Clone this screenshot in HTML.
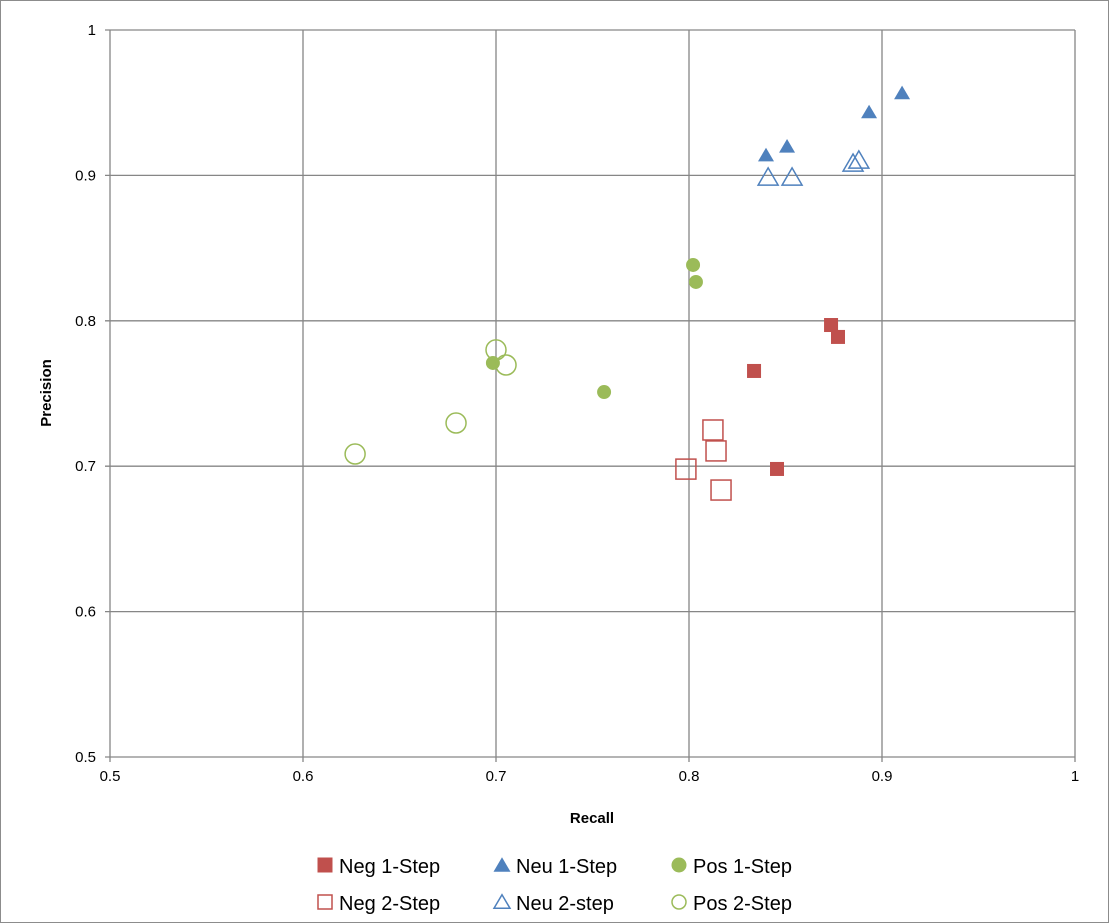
<!DOCTYPE html>
<html><head><meta charset="utf-8"><style>
body{margin:0;background:#fff;}
svg{display:block;font-family:"Liberation Sans",sans-serif;}
</style></head><body>
<svg id="chart" width="1109" height="923">
<rect x="0.5" y="0.5" width="1108" height="922" fill="#fff" stroke="#8c8c8c"/>
<g id="grid"></g><g id="marks"></g><g id="legend"></g>
<text x="592" y="823" text-anchor="middle" font-size="15" font-weight="bold">Recall</text>
<text transform="translate(51,393) rotate(-90)" text-anchor="middle" font-size="15" font-weight="bold">Precision</text>
</svg>
<script>
const xTicks=[0.5,0.6,0.7,0.8,0.9,1];
const xTickLabels=["0.5","0.6","0.7","0.8","0.9","1"];
const yTicks=[0.5,0.6,0.7,0.8,0.9,1];
const yTickLabels=["0.5","0.6","0.7","0.8","0.9","1"];
const neg1Recall=[0.8337,0.8736,0.8772,0.8456];
const neg1Precision=[0.7655,0.7971,0.7889,0.6981];
const neg2Recall=[0.7984,0.8124,0.814,0.8166];
const neg2Precision=[0.698,0.7249,0.7105,0.6836];
const neu1Recall=[0.8399,0.8508,0.8933,0.9104];
const neu1Precision=[0.914,0.920,0.9436,0.9567];
const neu2Recall=[0.841,0.8534,0.885,0.888];
const neu2Precision=[0.8989,0.8989,0.9085,0.9106];
const pos1Recall=[0.8021,0.8036,0.6984,0.756];
const pos1Precision=[0.8384,0.8267,0.771,0.751];
const pos2Recall=[0.627,0.6793,0.7,0.7052];
const pos2Precision=[0.7084,0.7297,0.78,0.7696];
const seriesNames=["Neg 1-Step","Neu 1-Step","Pos 1-Step","Neg 2-Step","Neu 2-step","Pos 2-Step"];

const NS="http://www.w3.org/2000/svg";
const X=v=>110+(v-0.5)/0.5*965;
const Y=v=>757-(v-0.5)/0.5*727;
function mk(tag,attrs,parent){const e=document.createElementNS(NS,tag);for(const k in attrs)e.setAttribute(k,attrs[k]);parent.appendChild(e);return e;}
const grid=document.getElementById('grid'),marks=document.getElementById('marks'),legend=document.getElementById('legend');
xTicks.forEach((t,i)=>{
 const l=mk('line',{x1:X(t),x2:X(t),y1:Y(1),y2:Y(0.5)+5,stroke:'#868686','stroke-width':1.3},grid);
 
 
 const tx=mk('text',{x:X(t),y:Y(0.5)+24,'text-anchor':'middle','font-size':15},grid);tx.textContent=xTickLabels[i];
 
 
});
yTicks.forEach((t,i)=>{
 const l=mk('line',{x1:X(0.5)-5,x2:X(1),y1:Y(t),y2:Y(t),stroke:'#868686','stroke-width':1.3},grid);
 
 
 const tx=mk('text',{x:X(0.5)-14,y:Y(t)+5,'text-anchor':'end','font-size':15},grid);tx.textContent=yTickLabels[i];
 
 
});
const RED='#C0504D',BLUE='#4F81BD',GREEN='#9BBB59';
function shape(type,filled,color,cx,cy,s,parent){
 const fill=filled?color:'none';const sw=filled?0:1.5;
 if(type==='sq')return mk('rect',{x:cx-s/2,y:cy-s/2,width:s,height:s,fill,stroke:color,'stroke-width':sw},parent);
 if(type==='tri'){const h=s*0.9;return mk('polygon',{points:`${cx},${cy-h/2-1} ${cx+s/2+1},${cy+h/2} ${cx-s/2-1},${cy+h/2}`,fill,stroke:color,'stroke-width':sw},parent);}
 return mk('circle',{cx,cy,r:s/2,fill,stroke:color,'stroke-width':sw},parent);
}
const defs=[[neg1Recall,neg1Precision,'sq',true,RED,14,'neg-1-step-point'],[neg2Recall,neg2Precision,'sq',false,RED,20,'neg-2-step-point'],
[neu1Recall,neu1Precision,'tri',true,BLUE,14,'neu-1-step-point'],[neu2Recall,neu2Precision,'tri',false,BLUE,18,'neu-2-step-point'],
[pos1Recall,pos1Precision,'circ',true,GREEN,14,'pos-1-step-point'],[pos2Recall,pos2Precision,'circ',false,GREEN,20,'pos-2-step-point']];
defs.forEach(d=>{d[0].forEach((r,i)=>{const e=shape(d[2],d[3],d[4],X(r),Y(d[1][i]),d[5],marks);
 
 });});
const leg=[['sq',true,RED],['tri',true,BLUE],['circ',true,GREEN],['sq',false,RED],['tri',false,BLUE],['circ',false,GREEN]];
leg.forEach((l,i)=>{const col=i%3,row=Math.floor(i/3);const x=325+col*177,y=865+row*37;
 const g=mk('g',{},legend);
 
 
 shape(l[0],l[1],l[2],x,y,l[1]?15:14,g);
 const t=mk('text',{x:x+14,y:y+8,'font-size':20},g);t.textContent=seriesNames[i];});
</script>
</body></html>
